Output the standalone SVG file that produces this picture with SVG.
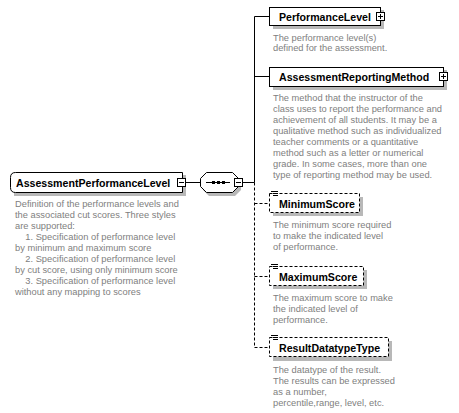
<svg xmlns="http://www.w3.org/2000/svg" width="459" height="413" viewBox="0 0 459 413">
<defs>
<style>
.bg{fill:#ffffff}
.box{fill:#ffffff;stroke:#000;stroke-width:1}
.opt{fill:#ffffff;stroke:#000;stroke-width:1;stroke-dasharray:3,2}
.sh{fill:#b8b8b8}
.lbl{font-family:"Liberation Sans",Arial,sans-serif;font-weight:bold;font-size:10.6px;fill:#000}
.desc{font-family:"Liberation Sans",Arial,sans-serif;font-size:9.3px;fill:#808080}
.ln{stroke:#000;stroke-width:1;fill:none}
.dl{stroke:#000;stroke-width:1;fill:none;stroke-dasharray:3,2}
.btn{fill:#fff;stroke:#000;stroke-width:1}
</style>
</defs>
<rect class="bg" x="0" y="0" width="459" height="413"/>
<g id="connectors">
<line class="ln" x1="186" y1="182.5" x2="200" y2="182.5"/>
<line class="ln" x1="243" y1="182.5" x2="254.5" y2="182.5"/>
<polyline class="ln" points="269,16.5 254.5,16.5 254.5,182.5"/>
<line class="ln" x1="254.5" y1="76.5" x2="269" y2="76.5"/>
<line class="dl" x1="254.5" y1="182.5" x2="254.5" y2="347.5"/>
<line class="dl" x1="254.5" y1="203.5" x2="269" y2="203.5"/>
<line class="dl" x1="254.5" y1="276.5" x2="269" y2="276.5"/>
<line class="dl" x1="254.5" y1="347.5" x2="269" y2="347.5"/>
</g>
<g id="AssessmentPerformanceLevel">
<path class="sh" d="M14,175 h172 v21 h-172 z"/>
<path class="box" d="M15.5,172.5 H182.5 V192.5 H15.5 Q10.5,192.5 10.5,187.5 V177.5 Q10.5,172.5 15.5,172.5 Z"/>
<text class="lbl" x="16" y="186.5">AssessmentPerformanceLevel</text>
<rect class="btn" x="177.5" y="178.5" width="8" height="8"/>
<line class="ln" x1="179" y1="182.5" x2="184" y2="182.5"/>
<text class="desc" x="15" y="207">Definition of the performance levels and</text>
<text class="desc" x="15" y="218">the associated cut scores. Three styles</text>
<text class="desc" x="15" y="229">are supported:</text>
<text class="desc" x="15" y="240" xml:space="preserve">    1. Specification of performance level</text>
<text class="desc" x="15" y="251">by minimum and maximum score</text>
<text class="desc" x="15" y="262" xml:space="preserve">    2. Specification of performance level</text>
<text class="desc" x="15" y="273">by cut score, using only minimum score</text>
<text class="desc" x="15" y="284" xml:space="preserve">    3. Specification of performance level</text>
<text class="desc" x="15" y="295">without any mapping to scores</text>
</g>
<g id="sequence">
<path class="sh" d="M209,175 H235 L241,181 V190 L235,196 H209 L203,190 V181 Z"/>
<path class="box" d="M206.5,172.5 H232.5 L238.5,178.5 V186.5 L232.5,192.5 H206.5 L200.5,186.5 V178.5 Z"/>
<line class="ln" x1="206" y1="182.5" x2="230" y2="182.5"/>
<rect x="212" y="181" width="3" height="3" fill="#000"/>
<rect x="217" y="181" width="3" height="3" fill="#000"/>
<rect x="222" y="181" width="3" height="3" fill="#000"/>
<rect class="btn" x="234.5" y="178.5" width="8" height="8"/>
<line class="ln" x1="236" y1="182.5" x2="241" y2="182.5"/>
</g>
<g id="PerformanceLevel">
<rect class="sh" x="273" y="10" width="111" height="19"/>
<rect class="box" x="269.5" y="7.5" width="111" height="18"/>
<text class="lbl" x="279" y="21">PerformanceLevel</text>
<rect class="btn" x="376.5" y="12.5" width="8" height="8"/>
<line class="ln" x1="378" y1="16.5" x2="383" y2="16.5"/>
<line class="ln" x1="380.5" y1="14" x2="380.5" y2="19"/>
<text class="desc" x="273" y="41">The performance level(s)</text>
<text class="desc" x="273" y="51">defined for the assessment.</text>
</g>
<g id="AssessmentReportingMethod">
<rect class="sh" x="273" y="70" width="174" height="20"/>
<rect class="box" x="269.5" y="67.5" width="174" height="19"/>
<text class="lbl" x="279" y="81">AssessmentReportingMethod</text>
<rect class="btn" x="439.5" y="72.5" width="8" height="8"/>
<line class="ln" x1="441" y1="76.5" x2="446" y2="76.5"/>
<line class="ln" x1="443.5" y1="74" x2="443.5" y2="79"/>
<text class="desc" x="273" y="101">The method that the instructor of the</text>
<text class="desc" x="273" y="112">class uses to report the performance and</text>
<text class="desc" x="273" y="123">achievement of all students. It may be a</text>
<text class="desc" x="273" y="134">qualitative method such as individualized</text>
<text class="desc" x="273" y="145">teacher comments or a quantitative</text>
<text class="desc" x="273" y="156">method such as a letter or numerical</text>
<text class="desc" x="273" y="167">grade. In some cases, more than one</text>
<text class="desc" x="273" y="178">type of reporting method may be used.</text>
</g>
<g id="MinimumScore">
<rect class="sh" x="273" y="197" width="90" height="19"/>
<rect class="opt" x="269.5" y="193.5" width="90" height="19"/>
<g class="ln"><line x1="271" y1="191.5" x2="278" y2="191.5"/><line x1="273" y1="193.5" x2="278" y2="193.5"/><line x1="273" y1="195.5" x2="278" y2="195.5"/></g>
<text class="lbl" x="279" y="208">MinimumScore</text>
<text class="desc" x="273" y="228">The minimum score required</text>
<text class="desc" x="273" y="239">to make the indicated level</text>
<text class="desc" x="273" y="250">of performance.</text>
</g>
<g id="MaximumScore">
<rect class="sh" x="273" y="270" width="94" height="19"/>
<rect class="opt" x="269.5" y="266.5" width="94" height="19"/>
<g class="ln"><line x1="271" y1="264.5" x2="278" y2="264.5"/><line x1="273" y1="266.5" x2="278" y2="266.5"/><line x1="273" y1="268.5" x2="278" y2="268.5"/></g>
<text class="lbl" x="279" y="281">MaximumScore</text>
<text class="desc" x="273" y="301">The maximum score to make</text>
<text class="desc" x="273" y="312">the indicated level of</text>
<text class="desc" x="273" y="323">performance.</text>
</g>
<g id="ResultDatatypeType">
<rect class="sh" x="273" y="341" width="119" height="20"/>
<rect class="opt" x="269.5" y="337.5" width="119" height="19"/>
<g class="ln"><line x1="271" y1="335.5" x2="278" y2="335.5"/><line x1="273" y1="337.5" x2="278" y2="337.5"/><line x1="273" y1="339.5" x2="278" y2="339.5"/></g>
<text class="lbl" x="279" y="352">ResultDatatypeType</text>
<text class="desc" x="273" y="373">The datatype of the result.</text>
<text class="desc" x="273" y="384">The results can be expressed</text>
<text class="desc" x="273" y="395">as a number,</text>
<text class="desc" x="273" y="406">percentile,range, level, etc.</text>
</g>
</svg>
